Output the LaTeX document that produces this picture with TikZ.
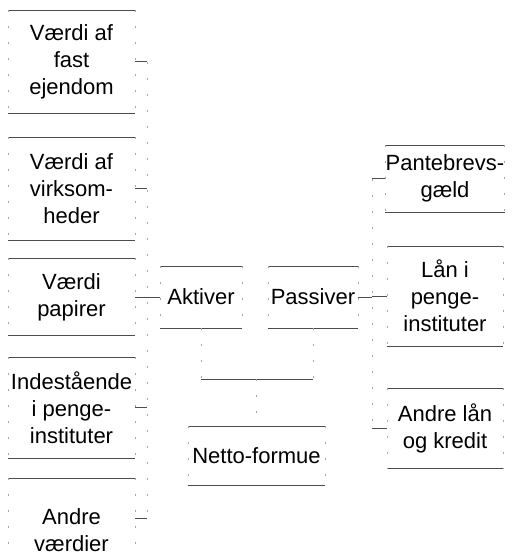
\documentclass[tikz,border=0pt]{standalone}
\usepackage{fontspec}
\setmainfont{Liberation Sans}
\usetikzlibrary{positioning,calc}

\begin{document}
\begin{tikzpicture}[
  x=1pt, y=-1pt,
  font=\fontsize{22}{27}\selectfont,
  b/.style={align=center, inner sep=0pt},
  lb/.style={b, minimum width=127pt},
  rb/.style={b, minimum width=116pt},
  h/.style={black!70, line width=0.5pt},
  v/.style={black!35, line width=0.5pt, dash pattern=on 2pt off 14pt}
]
\useasboundingbox (0,0) rectangle (512,555);
% aktiver
\node[lb, minimum height=103pt] (fast) at (71.5,61.5) {Værdi af\\fast\\ejendom};
\node[lb, minimum height=103pt] (virk) at (71.5,188.5) {Værdi af\\virksom-\\heder};
\node[lb, minimum height=77pt] (papir) at (71.5,297) {Værdi\\papirer};
\node[lb, minimum height=101pt] (inde) at (71.5,407.5) {Indestående\\i penge-\\instituter};
\node[lb, minimum height=104pt] (ov) at (71.5,530) {Andre\\værdier};
% passiver
\node[rb, minimum height=67pt] (pant) at (445,178.5) {Pantebrevs-\\gæld};
\node[rb, minimum height=100pt] (laan) at (445,296) {Lån i\\penge-\\instituter};
\node[rb, minimum height=80pt] (andre) at (445,428) {Andre lån\\og kredit};
% midten
\node[b, minimum width=82pt, minimum height=62pt] (akt) at (201,297) {Aktiver};
\node[b, minimum width=90pt, minimum height=62pt] (pas) at (313,297) {Passiver};
\node[b, minimum width=137pt, minimum height=59pt] (netto) at (256.5,455.5) {Netto-formue};

% kanter
\foreach \n in {fast,virk,papir,inde,ov,pant,laan,andre,akt,pas,netto} {
  \draw[h] (\n.north west) -- (\n.north east);
  \draw[h] (\n.south west) -- (\n.south east);
  \draw[v] (\n.north west) -- (\n.south west);
  \draw[v] (\n.north east) -- (\n.south east);
}

% forbindelser
\coordinate (lbus) at (147,0);
\coordinate (rbus) at (372,0);
\coordinate (bar) at (0,379);
\foreach \n in {fast,virk,inde} \draw[h] (\n.east) -- (\n.east -| lbus);
\draw[h] ([yshift=12pt]ov.east) -- ([yshift=12pt]ov.east -| lbus);
\draw[v] (fast.east -| lbus) -- ([yshift=12pt]ov.east -| lbus);
\draw[h] (papir.east) -- (akt.west);
\foreach \n in {pant,laan,andre} \draw[h] (\n.west) -- (\n.west -| rbus);
\draw[v] (pant.west -| rbus) -- (andre.west -| rbus);
\draw[h] (pas.east) -- (pas.east -| rbus);
\draw[v] (akt.south) -- (akt.south |- bar);
\draw[v] (pas.south) -- (pas.south |- bar);
\draw[h] (akt.south |- bar) -- (pas.south |- bar);
\draw[v] (netto.north |- bar) -- (netto.north);
\end{tikzpicture}
\end{document}
